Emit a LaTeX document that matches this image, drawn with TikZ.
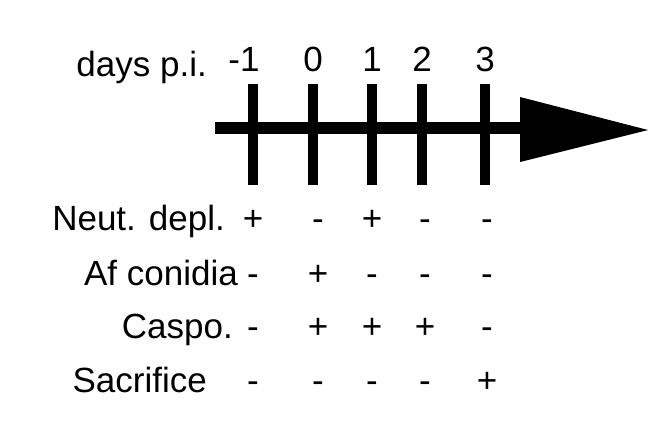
\documentclass[tikz,border=0pt]{standalone}
\usepackage{fontspec}
\setmainfont{Liberation Sans}
\begin{document}
\begin{tikzpicture}[x=1pt,y=-1pt,
  lbl/.style={font=\fontsize{35}{38}\selectfont, inner sep=0pt},
  tick/.style={line width=10pt}]
\useasboundingbox (0,0) rectangle (668,437);
\coordinate (s) at (215,128);
\coordinate (e) at (525,128);
\draw[line width=12pt] (s) -- (e);
\fill (520,97) -- (648,130) -- (520,162) -- cycle;
\node[lbl, anchor=base east] (days) at (207,76) {days p.i.};
\foreach \x/\t [count=\i] in {244/-1,313/0,372/1,422/2,485/3}{
  \node[lbl, anchor=base] (n\i) at (\x,71) {\t};
}
\foreach \x in {253,313,372,422,485}{
  \draw[tick] (\x,84) -- (\x,185);
}
\node[lbl, anchor=base east] (r1) at (225,230) {Neut. depl.};
\node[lbl, anchor=base east] (r2) at (238,285) {Af conidia};
\node[lbl, anchor=base east] (r3) at (233,338) {Caspo.};
\node[lbl, anchor=base east] (r4) at (207,392) {Sacrifice};
\foreach \r/\y/\vals in {1/230/{+,-,+,-,-},2/285/{-,+,-,-,-},3/338/{-,+,+,+,-},4/392/{-,-,-,-,+}}{
  \foreach \v [count=\c] in \vals {
    \pgfmathsetmacro\xx{{253,318,372,425,487}[\c-1]}
    \node[lbl, anchor=base] (v\r\c) at (\xx,\y) {\v};
  }
}
\end{tikzpicture}
\end{document}
